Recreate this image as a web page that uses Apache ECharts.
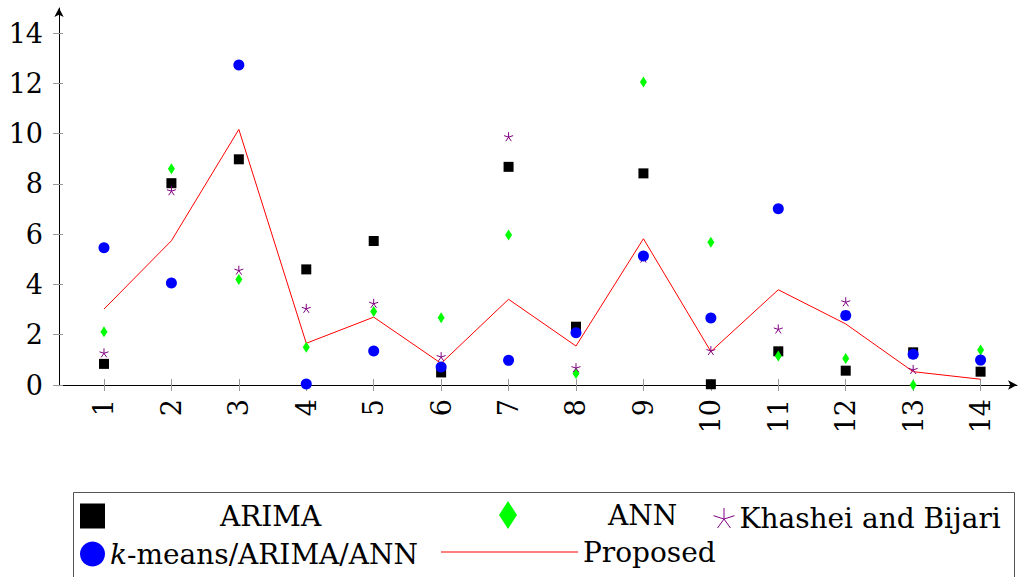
<!DOCTYPE html>
<html>
<head>
<meta charset="utf-8">
<script src="https://cdn.jsdelivr.net/npm/echarts@6/dist/echarts.min.js"></script>
<style>
html,body{margin:0;padding:0;background:#fff;}
#c{width:1019px;height:577px;}
</style>
</head>
<body>
<div id="c"></div>
<script>
const categories = [1,2,3,4,5,6,7,8,9,10,11,12,13,14];
const arima    = [0.84, 8.03, 8.98, 4.60, 5.73, 0.50, 8.68, 2.32, 8.42, 0.03, 1.34, 0.57, 1.30, 0.53];
const ann      = [2.12, 8.60, 4.20, 1.50, 2.92, 2.68, 5.97, 0.46, 12.06, 5.68, 1.15, 1.05, 0.00, 1.39];
const khashei  = [1.28, 7.73, 4.57, 3.05, 3.25, 1.13, 9.88, 0.69, 5.05, 1.37, 2.23, 3.31, 0.62, null];
const kmeans   = [5.46, 4.06, 12.73, 0.04, 1.35, 0.72, 0.98, 2.08, 5.13, 2.67, 7.01, 2.77, 1.22, 0.99];
const proposed = [3.02, 5.74, 10.17, 1.66, 2.70, 0.86, 3.41, 1.55, 5.82, 1.33, 3.79, 2.43, 0.53, 0.23];
const yTicks = [0,2,4,6,8,10,12,14];

const FONT = "'DejaVu Serif', 'Liberation Serif', serif";
const starPath = 'path://M0 0 L0 -1 M0 0 L0.951 -0.309 M0 0 L0.588 0.809 M0 0 L-0.588 0.809 M0 0 L-0.951 -0.309';
const linePath = 'path://M0 0 L0.01 0 Z M0 30 L0.01 30 Z M0 14.5 H137 V15.5 H0 Z';
const pts = arr => categories.map((c,i)=>[c,arr[i]]).filter(p => p[1] !== null);

const chart = echarts.init(document.getElementById('c'), null, {renderer:'svg'});
const xBase = {type:'value', min:0.333, max:14.54, splitLine:{show:false}};
const yBase = {type:'value', min:0, max:15, splitLine:{show:false}};
const txt = {fontFamily:FONT, fontSize:28, color:'#000'};
chart.setOption({
  animation:false,
  backgroundColor:'#fff',
  textStyle:{fontFamily:FONT},
  grid:{left:59, right:2, top:8, bottom:192, containLabel:false},
  xAxis:[
    Object.assign({}, xBase, {
      axisLine:{show:true, lineStyle:{color:'#000', width:1}, symbol:['none','arrow'], symbolSize:[7,9]},
      axisTick:{show:true, customValues:categories, length:6, lineStyle:{color:'#999'}},
      axisLabel:{show:true, customValues:categories, rotate:90, margin:14, color:'#000', fontFamily:FONT, fontSize:27}
    }),
    Object.assign({}, xBase, {
      position:'bottom',
      axisLine:{show:false},
      axisTick:{show:true, inside:true, customValues:categories, length:6, lineStyle:{color:'#999'}},
      axisLabel:{show:false}
    })
  ],
  yAxis:[
    Object.assign({}, yBase, {
      axisLine:{show:true, lineStyle:{color:'#000', width:1}, symbol:['none','arrow'], symbolSize:[7,9]},
      axisTick:{show:true, customValues:yTicks, length:6, lineStyle:{color:'#999'}},
      axisLabel:{show:true, customValues:yTicks, margin:16, color:'#000', fontFamily:FONT, fontSize:27}
    }),
    Object.assign({}, yBase, {
      position:'left',
      axisLine:{show:false},
      axisTick:{show:true, inside:true, customValues:yTicks, length:4, lineStyle:{color:'#999'}},
      axisLabel:{show:false}
    })
  ],
  legend:[
    {data:['ARIMA'], left:80, top:502, padding:0, itemWidth:25, itemHeight:25, icon:'rect',
     textStyle:Object.assign({}, txt, {padding:[0,0,0,110]})},
    {data:['ANN'], left:499, top:501, padding:0, itemWidth:18, itemHeight:28, icon:'diamond',
     textStyle:Object.assign({}, txt, {padding:[0,0,0,86]})},
    {data:['Khashei and Bijari'], left:713, top:504, padding:0, itemWidth:21, itemHeight:23, icon:starPath,
     itemStyle:{color:'transparent', borderColor:'#800080', borderWidth:1},
     textStyle:Object.assign({}, txt)},
    {data:['k-means/ARIMA/ANN'], left:80, top:540, padding:0, itemWidth:25, itemHeight:25, icon:'circle',
     formatter: () => '{i|k}-means/ARIMA/ANN',
     textStyle:Object.assign({}, txt, {rich:{i:{fontFamily:FONT, fontStyle:'italic', fontSize:28, color:'#000'}}})},
    {data:['Proposed'], left:441, top:537, padding:0, itemWidth:137, itemHeight:30, icon:linePath,
     itemStyle:{color:'#ff0000'},
     textStyle:Object.assign({}, txt)}
  ],
  graphic:[
    {type:'rect', shape:{x:73.5, y:492.5, width:941, height:100}, style:{fill:'none', stroke:'#555', lineWidth:1}, silent:true, z:-1}
  ],
  series:[
    {name:'Proposed', type:'line', data:pts(proposed), symbol:'none', showSymbol:false,
     lineStyle:{color:'#ff0000', width:1}, itemStyle:{color:'#ff0000'}, z:2},
    {name:'ARIMA', type:'scatter', data:pts(arima), symbol:'rect', symbolSize:10,
     itemStyle:{color:'#000', opacity:1}, z:3},
    {name:'ANN', type:'scatter', data:pts(ann), symbol:'diamond', symbolSize:[7,11],
     itemStyle:{color:'#00ff00', opacity:1}, z:4},
    {name:'Khashei and Bijari', type:'scatter', data:pts(khashei), symbol:starPath, symbolSize:[9,9],
     itemStyle:{color:'transparent', borderColor:'#800080', borderWidth:1, opacity:1}, z:5},
    {name:'k-means/ARIMA/ANN', type:'scatter', data:pts(kmeans), symbol:'circle', symbolSize:11,
     itemStyle:{color:'#0000ff', opacity:1}, z:6}
  ]
});
</script>
</body>
</html>
